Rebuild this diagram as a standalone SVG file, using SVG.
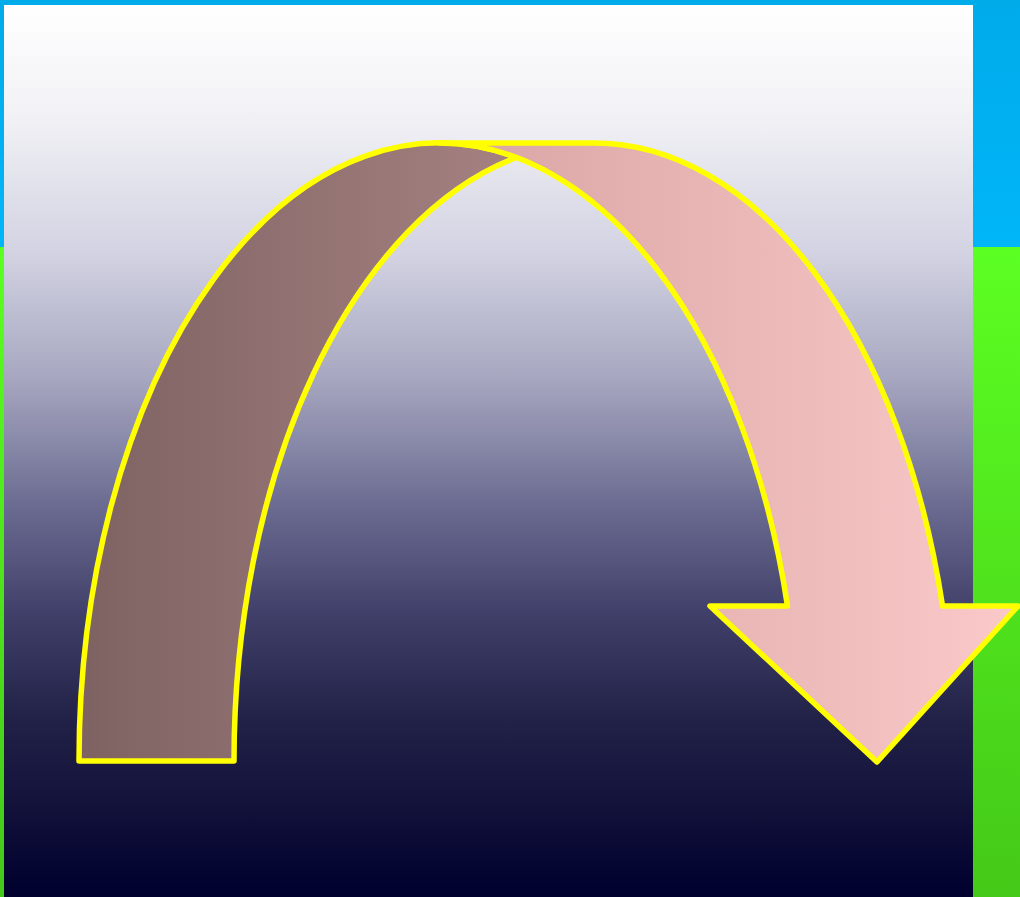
<svg xmlns="http://www.w3.org/2000/svg" width="1020" height="897" viewBox="0 0 1020 897">
  <defs>
    <linearGradient id="blueG" x1="0" y1="0" x2="0" y2="247" gradientUnits="userSpaceOnUse">
      <stop offset="0" stop-color="#00abea"/>
      <stop offset="1" stop-color="#00b6f8"/>
    </linearGradient>
    <linearGradient id="greenG" x1="0" y1="247" x2="0" y2="897" gradientUnits="userSpaceOnUse">
      <stop offset="0" stop-color="#5cff22"/>
      <stop offset="1" stop-color="#44c918"/>
    </linearGradient>
    <linearGradient id="skyG" x1="0" y1="5" x2="0" y2="897" gradientUnits="userSpaceOnUse">
      <stop offset="0" stop-color="#ffffff"/>
      <stop offset="0.12" stop-color="#f2f2f6"/>
      <stop offset="0.28" stop-color="#d2d2e2"/>
      <stop offset="0.42" stop-color="#a6a6c0"/>
      <stop offset="0.56" stop-color="#6c6c92"/>
      <stop offset="0.68" stop-color="#40406a"/>
      <stop offset="0.8" stop-color="#222248"/>
      <stop offset="0.9" stop-color="#11113a"/>
      <stop offset="1" stop-color="#00002e"/>
    </linearGradient>
    <linearGradient id="darkG" x1="80" y1="0" x2="517" y2="0" gradientUnits="userSpaceOnUse">
      <stop offset="0" stop-color="#7e6262"/>
      <stop offset="1" stop-color="#a68181"/>
    </linearGradient>
    <linearGradient id="pinkG" x1="440" y1="0" x2="1018" y2="0" gradientUnits="userSpaceOnUse">
      <stop offset="0" stop-color="#d8a3a3"/>
      <stop offset="1" stop-color="#fbc9c9"/>
    </linearGradient>
  </defs>
  <style>
    .band { stroke: #ffff00; stroke-width: 5.5; stroke-linejoin: round; }
  </style>
  <g id="background">
    <rect x="0" y="0" width="1020" height="247" fill="url(#blueG)"/>
    <rect x="0" y="247" width="1020" height="650" fill="url(#greenG)"/>
    <rect x="4" y="5" width="969" height="892" fill="url(#skyG)"/>
  </g>
  <g id="arrow-back">
    <path class="band" fill="url(#darkG)" d="M 79,761 A 360 618 0 0 1 516.5,157.5 A 360 618 0 0 0 234,761 Z"/>
  </g>
  <g id="arrow-front">
    <path class="band" fill="url(#pinkG)" d="M 439,143 L 594,143 A 360 618 0 0 1 942.5,606 L 1018,606 L 877,762 L 710,606 L 787.5,606 A 360 618 0 0 0 439,143 Z"/>
  </g>
</svg>
